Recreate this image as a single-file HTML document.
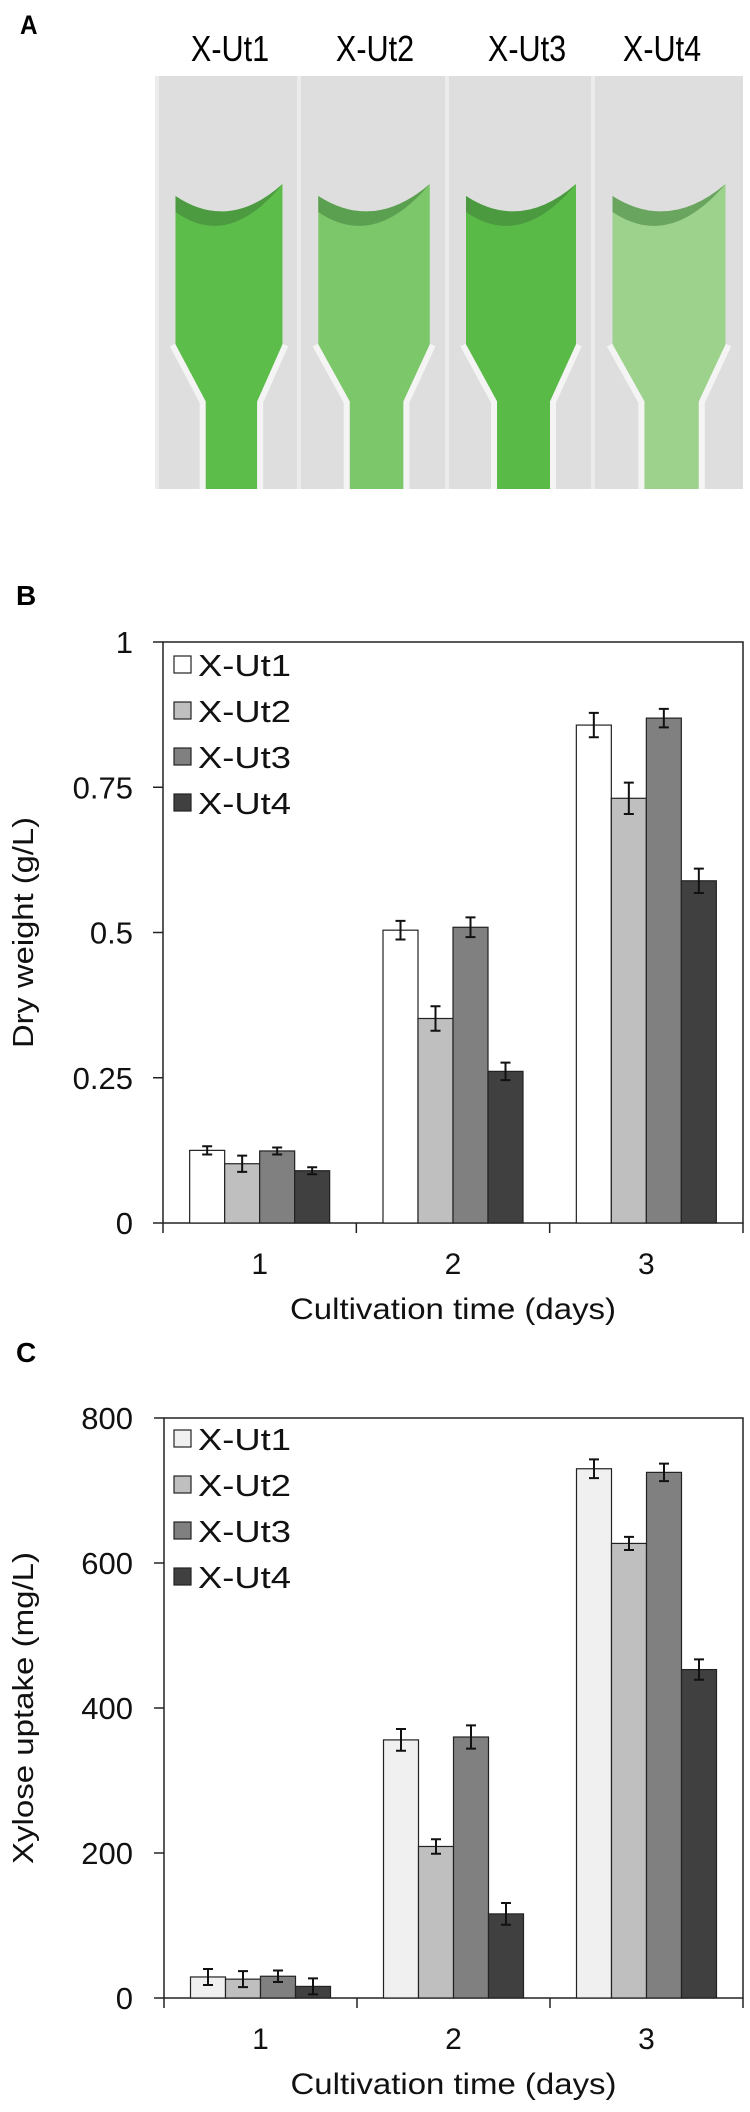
<!DOCTYPE html>
<html><head><meta charset="utf-8">
<style>
html,body{margin:0;padding:0;background:#fff;}
svg{display:block;font-family:"Liberation Sans",Arial,sans-serif;}
</style></head>
<body>
<svg id="fig" width="750" height="2112" viewBox="0 0 750 2112" xmlns="http://www.w3.org/2000/svg">
  <text x="20" y="34" font-size="27" font-weight="bold" transform="translate(20 0) scale(0.9 1) translate(-20 0)">A</text>
  <g font-size="36" text-anchor="middle">
    <text transform="translate(230 61) scale(0.85 1)">X-Ut1</text>
    <text transform="translate(375 61) scale(0.85 1)">X-Ut2</text>
    <text transform="translate(527 61) scale(0.85 1)">X-Ut3</text>
    <text transform="translate(662 61) scale(0.85 1)">X-Ut4</text>
  </g>
  <g id="photo">
    <rect x="157" y="76" width="586" height="413" fill="#dedede"/>
  </g>
  <text x="16" y="605" font-size="28" font-weight="bold">B</text>
  <text x="16" y="1362" font-size="28" font-weight="bold">C</text>
  <g id="chartB"></g>
  <g id="chartC"></g>
</svg>
<script>
const NS = "http://www.w3.org/2000/svg";
// ---- data ----
const categories = ["1", "2", "3"];
const seriesNames = ["X-Ut1", "X-Ut2", "X-Ut3", "X-Ut4"];
const dryWeight = [[0.125, 0.504, 0.857], [0.102, 0.352, 0.731], [0.124, 0.509, 0.869], [0.090, 0.261, 0.589]];
const dryWeightErr = [[0.007, 0.016, 0.021], [0.014, 0.021, 0.027], [0.006, 0.017, 0.016], [0.006, 0.015, 0.021]];
const dryTicks = ["0", "0.25", "0.5", "0.75", "1"];
const dryTickValues = [0, 0.25, 0.5, 0.75, 1];
const xylose = [[29, 356, 730], [26, 209, 627], [30, 360, 725], [16, 116, 453]];
const xyloseErr = [[11, 15, 13], [11, 10, 9], [8, 16, 12], [11, 15, 14]];
const xyTicks = ["0", "200", "400", "600", "800"];
const xyTickValues = [0, 200, 400, 600, 800];
const cuvetteGreens = ["#5dbd4b", "#7cc76a", "#5aba48", "#9dd28c"];

function mk(tag, attrs, parent) {
  const e = document.createElementNS(NS, tag);
  for (const k in attrs) e.setAttribute(k, attrs[k]);
  if (parent) parent.appendChild(e);
  return e;
}

(function () {
  const g = document.getElementById('photo');
  const xs = [157, 299, 447, 593];
  const widths = [142, 148, 146, 150];
  xs.forEach((x0, i) => {
    const s = widths[i] / 146;
    const L = x0 + 19 * s, R = x0 + 129 * s, nl = x0 + 50 * s, nr = x0 + 103 * s;
    const liq = mk('path', {
      d: `M${L} 196 Q${(L + R) / 2} 232 ${R} 184 L${R} 345 L${nr} 402 L${nr} 489 L${nl} 489 L${nl} 402 L${L} 345 Z`,
      fill: cuvetteGreens[i]
    }, g);
    
    
    const men = mk('path', {
      d: `M${L} 196 Q${(L + R) / 2} 232 ${R} 184 Q${(L + R) / 2} 250 ${L} 212 Z`,
      fill: "#3f7f3a", opacity: "0.55"
    }, g);
    
    
    const wall1 = mk('path', { d: `M${L - 3} 345 L${nl - 3} 402 L${nl - 3} 489`, stroke: "#f4f4f4", "stroke-width": "6", fill: "none" }, g);
    
    
    const wall2 = mk('path', { d: `M${R + 3} 345 L${nr + 3} 402 L${nr + 3} 489`, stroke: "#f4f4f4", "stroke-width": "6", fill: "none" }, g);
    
    
    const sep = mk('rect', { x: x0 - 2, y: 76, width: 4, height: 413, fill: "#ececec" }, g);
    
    
  });
})();

function drawChart(gid, cfg) {
  const g = document.getElementById(gid);
  const { left, right, top, bottom, vmax, values, errs, ticks, tickVals, fills, ytitle, ytitleLen, legendY } = cfg;
  const y = v => bottom - (v / vmax) * (bottom - top);
  const catW = (right - left) / categories.length;
  const xc = i => left + catW * (i + 0.5);
  const barW = 35;
  const fr = mk('rect', { x: left, y: top, width: right - left, height: bottom - top, fill: "none", stroke: "#222", "stroke-width": "1.5" }, g);
  
  
  tickVals.forEach((tv, i) => {
    const t = mk('line', { x1: left - 10, x2: left, y1: y(tv), y2: y(tv), stroke: "#222", "stroke-width": "1.5" }, g);
    
    
    const lb = mk('text', { x: 133, y: y(tv) + 11, "font-size": "31", "text-anchor": "end", fill: "#111" }, g);
    lb.textContent = ticks[i];
    
    
  });
  for (let i = 0; i <= categories.length; i++) {
    const xx = left + catW * i;
    const t = mk('line', { x1: xx, x2: xx, y1: bottom, y2: bottom + 10, stroke: "#222", "stroke-width": "1.5" }, g);
    
    
  }
  categories.forEach((c, i) => {
    const lb = mk('text', { x: xc(i), y: bottom + 51, "font-size": "30", "text-anchor": "middle", fill: "#111" }, g);
    lb.textContent = c;
    
    
  });
  values.forEach((ser, s) => {
    ser.forEach((v, i) => {
      const bx = xc(i) - 2 * barW + s * barW;
      const b = mk('rect', { x: bx, y: y(v), width: barW, height: bottom - y(v), fill: fills[s], stroke: "#222", "stroke-width": "1.2" }, g);
      
      
      const e = errs[s][i], cx = bx + barW / 2;
      const eb = mk('path', { d: `M${cx} ${y(v + e)} L${cx} ${y(v - e)} M${cx - 5} ${y(v + e)} L${cx + 5} ${y(v + e)} M${cx - 5} ${y(v - e)} L${cx + 5} ${y(v - e)}`, stroke: "#111", "stroke-width": "2", fill: "none" }, g);
      
      
    });
  });
  seriesNames.forEach((n, s) => {
    const ly = legendY + s * 46;
    const sw = mk('rect', { x: 174, y: ly - 9, width: 17, height: 17, fill: fills[s], stroke: "#222", "stroke-width": "1.2" }, g);
    
    
    const lt = mk('text', { x: 198, y: ly + 11, "font-size": "31", fill: "#111", textLength: "93", lengthAdjust: "spacingAndGlyphs" }, g);
    lt.textContent = n;
    
    
  });
  const yt = mk('text', { x: 0, y: 0, "font-size": "29", "text-anchor": "middle", fill: "#111", textLength: ytitleLen, lengthAdjust: "spacingAndGlyphs", transform: `translate(33 ${(top + bottom) / 2}) rotate(-90)` }, g);
  yt.textContent = ytitle;
  
  
  const xt = mk('text', { x: (left + right) / 2, y: bottom + 96, "font-size": "30", "text-anchor": "middle", fill: "#111", textLength: "326", lengthAdjust: "spacingAndGlyphs" }, g);
  xt.textContent = "Cultivation time (days)";
  
  
}

drawChart('chartB', {
  left: 163, right: 743, top: 642, bottom: 1223, vmax: 1,
  values: dryWeight, errs: dryWeightErr, ticks: dryTicks, tickVals: dryTickValues,
  fills: ["#ffffff", "#bfbfbf", "#808080", "#404040"],
  ytitle: "Dry weight  (g/L)", ytitleLen: "231", legendY: 665
});
drawChart('chartC', {
  left: 164, right: 743, top: 1418, bottom: 1998, vmax: 800,
  values: xylose, errs: xyloseErr, ticks: xyTicks, tickVals: xyTickValues,
  fills: ["#f0f0f0", "#bfbfbf", "#808080", "#404040"],
  ytitle: "Xylose uptake (mg/L)", ytitleLen: "312", legendY: 1439
});
</script>
</body></html>
